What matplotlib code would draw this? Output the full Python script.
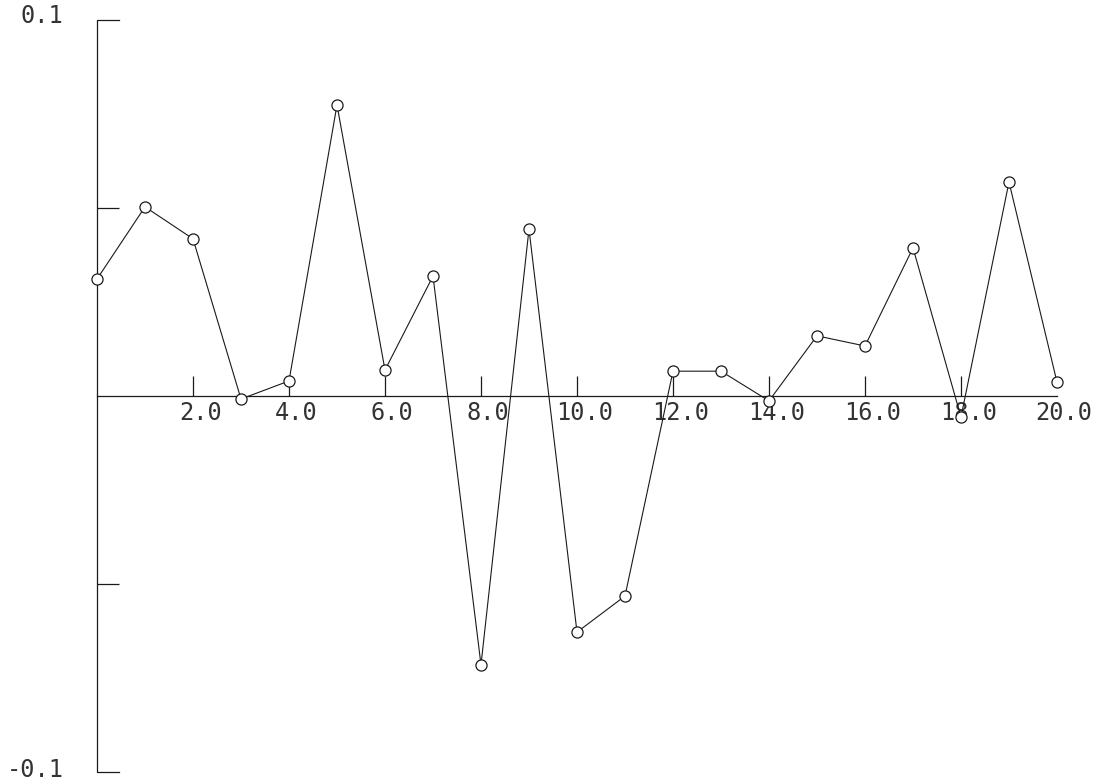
import matplotlib
matplotlib.use("Agg")
import matplotlib.pyplot as plt

# data
x_vals = list(range(21))
y_vals = [0.0311, 0.0503, 0.0418, -0.0008, 0.0040, 0.0774, 0.0069, 0.0319,
          -0.0715, 0.0444, -0.0628, -0.0532, 0.0066, 0.0066, -0.0013, 0.0160,
          0.0133, 0.0394, -0.0056, 0.0569, 0.0037]

x_ticks = [2, 4, 6, 8, 10, 12, 14, 16, 18]
x_labels = ["2.0", "4.0", "6.0", "8.0", "10.0", "12.0", "14.0", "16.0", "18.0", "20.0"]
x_label_pos = [2, 4, 6, 8, 10, 12, 14, 16, 18, 20]
y_ticks = [0.05, -0.05]

fig = plt.figure(figsize=(11.11, 7.84), dpi=100)
ax = fig.add_axes([97 / 1111, 12 / 784, 960 / 1111, 752 / 784])
ax.set_xlim(0, 20)
ax.set_ylim(-0.1, 0.1)
ax.axis("off")

ink = "#1a1a1a"
font = dict(family="DejaVu Sans Mono", color="#333333", fontsize=17)

# x axis along zero
ax.plot([0, 20], [0, 0], color=ink, lw=0.9, clip_on=False)
ax.vlines(x_ticks, 0, 0.0053, color=ink, lw=0.9)
for xp, lab in zip(x_label_pos, x_labels):
    ax.text(xp + 0.15, -0.0012, lab, ha="center", va="top", clip_on=False, **font)

# y axis with bracket ends
ax.plot([0.46, 0, 0, 0.46], [0.1, 0.1, -0.1, -0.1], color=ink, lw=0.9, clip_on=False)
ax.hlines(y_ticks, 0, 0.46, color=ink, lw=0.9)
ax.text(-0.7, 0.101, "0.1", ha="right", va="center", clip_on=False, **font)
ax.text(-0.7, -0.0995, "-0.1", ha="right", va="center", clip_on=False, **font)

# series
ax.plot(x_vals, y_vals, color=ink, lw=0.8, marker="o", markersize=8,
        markerfacecolor="white", markeredgecolor=ink, markeredgewidth=0.9,
        clip_on=False, zorder=3)

fig.savefig("out.png", dpi=100, facecolor="white")
